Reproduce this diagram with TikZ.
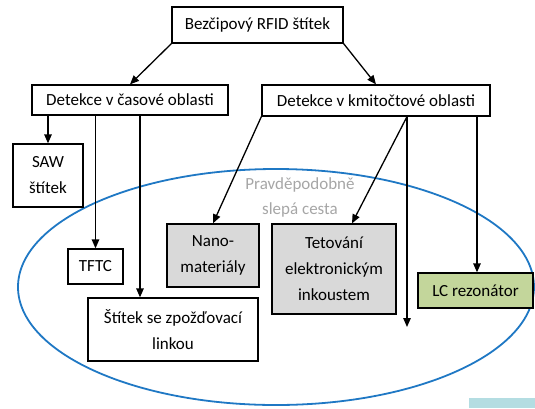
\documentclass[tikz,border=0pt]{standalone}
\usepackage{fontspec}
\setmainfont{Carlito}
\usepackage{xcolor}
\usepackage{tikz}
\usetikzlibrary{positioning,calc,arrows.meta}
\definecolor{boxgray}{HTML}{D9D9D9}
\definecolor{lcgreen}{HTML}{C3D69B}
\definecolor{ovalblue}{HTML}{1F78C4}
\definecolor{notegray}{HTML}{A6A6A6}
\definecolor{cornerblue}{HTML}{B4DDE2}
\tikzset{
  basic/.style  = {draw, line width=1.3pt, rectangle, inner sep=0pt, align=center,
                   font=\fontsize{17}{26}\selectfont},
  top/.style    = {basic, fill=white},
  level 2/.style = {basic, fill=white},
  leaf/.style   = {basic, fill=white},
  dead/.style   = {basic, fill=boxgray},
  good/.style   = {basic, fill=lcgreen},
  edge/.style   = {-{Triangle[length=9pt,width=7.5pt]}, line width=1.3pt},
  note/.style   = {text=notegray, align=center, font=\fontsize{17}{25}\selectfont}
}

\begin{document}
\begin{tikzpicture}[x=1pt,y=-1pt]
  \useasboundingbox (0,0) rectangle (535,408);
  % oblast "slepa cesta"
  \draw[ovalblue, line width=1.8pt] (276,287) ellipse [x radius=258, y radius=118];
  \fill[cornerblue] (469,398) rectangle (535,408);
  \node[note] (N) at (300,197) {Pravděpodobně\\slepá cesta};

  \node[top, minimum width=171pt, minimum height=36pt] (R) at (257.5,25) {Bezčipový RFID štítek};
  \node[level 2, minimum width=196pt, minimum height=30pt] (T) at (130,100) {Detekce v časové oblasti};
  \node[level 2, minimum width=228pt, minimum height=31pt] (F) at (376,100.5) {Detekce v kmitočtové oblasti};

  \node[leaf, minimum width=70pt, minimum height=63pt] (SAW) at (48,175.5) {SAW\\štítek};
  \node[leaf, minimum width=55pt, minimum height=35pt] (TFTC) at (95.5,266.5) {TFTC};
  \node[leaf, minimum width=170pt, minimum height=63pt] (DL) at (173,329.5) {Štítek se zpožďovací\\linkou};
  \node[dead, minimum width=92pt, minimum height=63pt] (NM) at (213,255.5) {Nano-\\materiály};
  \node[dead, minimum width=124pt, minimum height=90pt] (ET) at (334,269) {Tetování\\elektronickým\\inkoustem};
  \node[good, minimum width=115pt, minimum height=35pt] (LC) at (475.5,290.5) {LC rezonátor};
  \coordinate (free) at (407,327);

  \draw[edge] (R.south west) -- (T.north);
  \draw[edge] (R.south east) -- (F.north);

  \draw[edge] (SAW.north |- T.south) -- (SAW.north);
  \draw[edge] (TFTC.north |- T.south) -- (TFTC.north);
  \draw[edge] ([xshift=-33pt]DL.north |- T.south) -- ([xshift=-33pt]DL.north);

  \draw[edge] (F.south west) -- (NM.north);
  \draw[edge] (free |- F.south) -- ([xshift=18pt]ET.north);
  \draw[edge] (free |- F.south) -- (free);
  \draw[edge] ([xshift=1.5pt]LC.north |- F.south) -- ([xshift=1.5pt]LC.north);
\end{tikzpicture}
\end{document}
